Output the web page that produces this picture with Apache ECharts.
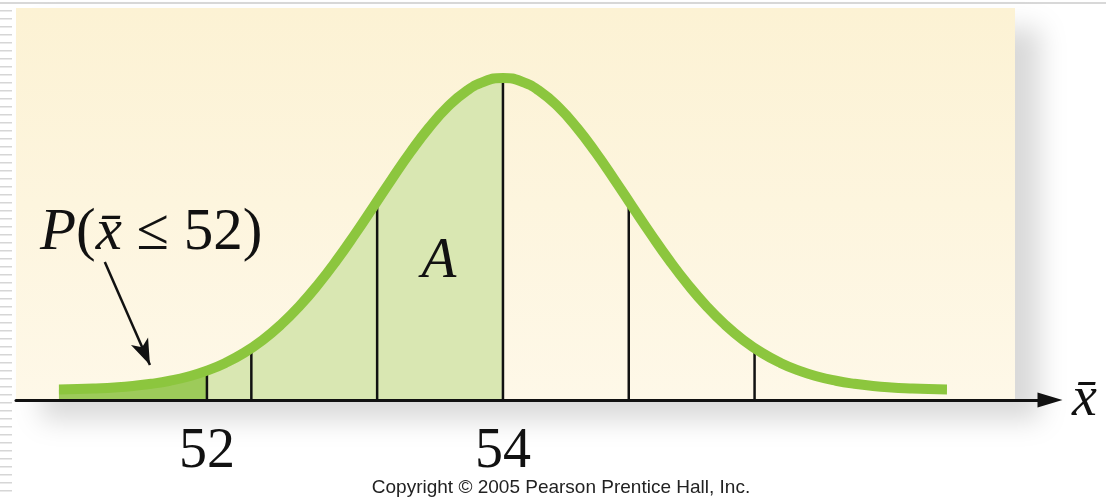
<!DOCTYPE html>
<html>
<head>
<meta charset="utf-8">
<script src="https://cdn.jsdelivr.net/npm/echarts@6/dist/echarts.min.js"></script>
<style>
  html, body { margin: 0; padding: 0; background: #fff; }
  #chart { width: 1106px; height: 497px; }
</style>
</head>
<body>
<div id="chart"></div>
<script>
// sampling distribution of x-bar, heights
var curveX = [51, 51.125, 51.25, 51.375, 51.5, 51.625, 51.75, 51.875,
              52, 52.125, 52.25, 52.375, 52.5, 52.625, 52.75, 52.875,
              53, 53.125, 53.25, 53.375, 53.5, 53.625, 53.75, 53.875,
              54, 54.125, 54.25, 54.375, 54.5, 54.625, 54.75, 54.875,
              55, 55.125, 55.25, 55.375, 55.5, 55.625, 55.75, 55.875,
              56, 56.125, 56.25, 56.375, 56.5, 56.625, 56.75, 56.875, 57];
var curveY = [0.001, 0.0015, 0.0025, 0.0039, 0.0061, 0.0094, 0.0140, 0.0204,
              0.0292, 0.0409, 0.0560, 0.0751, 0.0985, 0.1264, 0.1588, 0.1951,
              0.2347, 0.2762, 0.3180, 0.3583, 0.3951, 0.4263, 0.4500, 0.4649,
              0.4700, 0.4649, 0.4500, 0.4263, 0.3951, 0.3583, 0.3180, 0.2762,
              0.2347, 0.1951, 0.1588, 0.1264, 0.0985, 0.0751, 0.0560, 0.0409,
              0.0292, 0.0204, 0.0140, 0.0094, 0.0061, 0.0039, 0.0025, 0.0015, 0.001];
// vertical guide lines (52 and mean +-1, +-2 sigma)
var vlineX = [52, 52.30, 53.15, 54, 54.85, 55.70];
var vlineTop = [0.029, 0.064, 0.285, 0.470, 0.285, 0.064];
var tickLabels = [52, 54];
var tailEnd = 52;   // P(xbar <= 52)
var areaEnd = 54;   // region A

var yMin = -0.015, yMax = 0.5755;

var chart = echarts.init(document.getElementById('chart'));

var pts = [];
for (var i = 0; i < curveX.length; i++) pts.push([curveX[i], curveY[i]]);
var tailPts = pts.filter(function (p) { return p[0] <= tailEnd; });
var aPts = pts.filter(function (p) { return p[0] >= tailEnd && p[0] <= areaEnd; });
var vlines = [];
for (var j = 0; j < vlineX.length; j++) vlines.push([vlineX[j], vlineTop[j]]);

var serif = '"Liberation Serif", "DejaVu Serif", serif';

var option = {
  animation: false,
  grid: { left: 16, right: 56, top: 8, bottom: 97 },
  xAxis: {
    type: 'value', min: 50.71, max: 57.696, z: 10,
    axisLine: {
      onZero: false,
      lineStyle: { color: '#111', width: 3 },
      symbol: ['none', 'triangle'], symbolSize: [15, 25]
    },
    axisTick: { show: false },
    splitLine: { show: false },
    axisLabel: {
      customValues: tickLabels,
      margin: 24,
      fontFamily: serif, fontSize: 56, color: '#111'
    },
    name: 'x\u0304',
    nameLocation: 'end',
    nameGap: 22,
    nameTextStyle: { fontFamily: serif, fontStyle: 'italic', fontSize: 56, color: '#111', padding: [0, 0, 8, 0] }
  },
  yAxis: { type: 'value', min: yMin, max: yMax, show: false },
  graphic: [
    // slide frame bits
    { type: 'line', z: 0, shape: { x1: 0, y1: 3, x2: 1106, y2: 3 }, style: { stroke: '#d8d8d8', lineWidth: 2 } },
    { type: 'line', z: 0, shape: { x1: 6, y1: 10, x2: 6, y2: 497 }, style: { stroke: '#d6d6d6', lineWidth: 12, lineDash: [1.5, 6.5] } },
    // panel
    {
      type: 'rect', z: 0,
      shape: { x: 16, y: 8, width: 999, height: 392 },
      style: {
        fill: new echarts.graphic.LinearGradient(0, 0, 0, 1, [
          { offset: 0, color: '#FCF2D4' }, { offset: 1, color: '#FEF8E8' }
        ]),
        shadowBlur: 25, shadowOffsetX: 25, shadowOffsetY: 20, shadowColor: 'rgba(0,0,0,0.15)'
      }
    },
    {
      type: 'text', z: 100, left: 40, top: 204,
      style: {
        text: '{i|P}{n|(}{i|x\u0304}{n| \u2264 52)}',
        rich: {
          i: { fontFamily: serif, fontStyle: 'italic', fontSize: 59, fill: '#111' },
          n: { fontFamily: serif, fontSize: 59, fill: '#111' }
        }
      }
    },
    {
      type: 'text', z: 100, x: 439, y: 262,
      style: { text: 'A', fontFamily: serif, fontStyle: 'italic', fontSize: 57, fill: '#111', align: 'center', verticalAlign: 'middle' }
    },
    {
      type: 'text', z: 100, x: 561, y: 488,
      style: { text: 'Copyright \u00a9 2005 Pearson Prentice Hall, Inc.', fontFamily: '"Liberation Sans", Arial, sans-serif', fontSize: 19, fill: '#222', align: 'center', verticalAlign: 'middle' }
    }
  ],
  series: [
    {
      type: 'line', data: tailPts, smooth: 0.5, symbol: 'none', z: 1,
      lineStyle: { width: 0 },
      areaStyle: { color: '#9DCB5A', opacity: 1, origin: 'start' }
    },
    {
      type: 'line', data: aPts, smooth: 0.5, symbol: 'none', z: 1,
      lineStyle: { width: 0 },
      areaStyle: { color: '#D9E7B2', opacity: 1, origin: 'start' }
    },
    {
      type: 'custom', data: vlines, z: 2, silent: true,
      renderItem: function (params, api) {
        var top = api.coord([api.value(0), api.value(1)]);
        var bot = api.coord([api.value(0), yMin]);
        return { type: 'line', shape: { x1: bot[0], y1: bot[1], x2: top[0], y2: top[1] }, style: { stroke: '#111', lineWidth: 2.5 } };
      },
      markLine: {
        silent: true, symbol: ['none', 'arrow'], symbolSize: [14, 26],
        label: { show: false },
        lineStyle: { color: '#111', width: 2.5, type: 'solid' },
        data: [[{ coord: [51.31, 0.193] }, { coord: [51.615, 0.0377] }]]
      }
    },
    {
      type: 'line', data: pts, smooth: 0.5, symbol: 'none', z: 3,
      lineStyle: { color: '#8CC63E', width: 10 }
    }
  ]
};
chart.setOption(option);
</script>
</body>
</html>
